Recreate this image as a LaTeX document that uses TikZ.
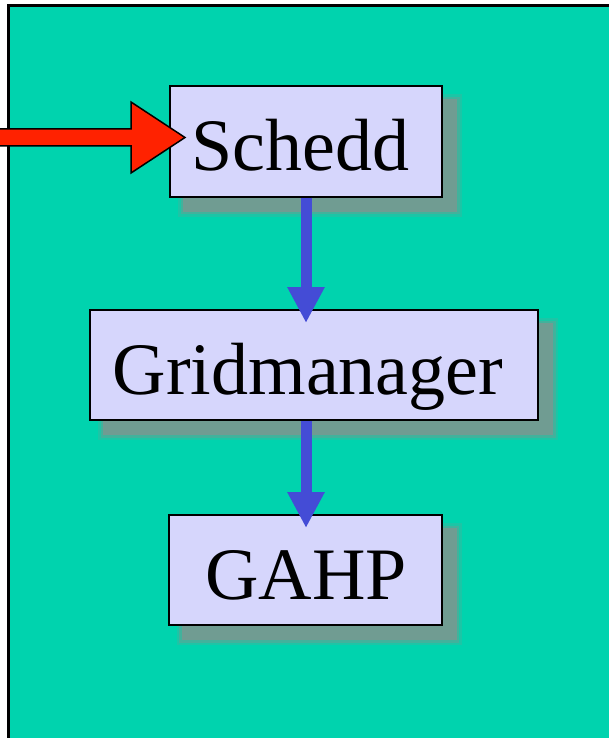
\documentclass[tikz,border=0pt]{standalone}
\usepackage{fontspec}
\setmainfont{Liberation Serif}
\usetikzlibrary{arrows.meta}
\definecolor{panel}{RGB}{0,211,174}
\definecolor{boxfill}{RGB}{214,214,252}
\definecolor{flowblue}{RGB}{68,76,214}
\definecolor{inred}{RGB}{255,34,0}
\definecolor{shadowgray}{RGB}{112,156,146}
\tikzset{
  softshadow/.style={
    preaction={draw=shadowgray, line width=12pt, draw opacity=0.25,
      transform canvas={shift={(14pt,-14pt)}}},
    preaction={draw=shadowgray, line width=7pt, draw opacity=0.45,
      transform canvas={shift={(14pt,-14pt)}}},
    preaction={draw=shadowgray, fill=shadowgray, line width=2pt,
      transform canvas={shift={(14pt,-14pt)}}}},
  proc/.style={draw=black, line width=2pt, fill=boxfill, inner sep=0pt,
    minimum height=110pt, text height=58pt, text depth=0pt,
    font=\fontsize{74}{80}\selectfont, softshadow},
  flow/.style={draw=flowblue, line width=11pt,
    -{Triangle[length=36pt,width=35pt]}, shorten >=-14pt},
  inarrow/.style={draw=black, line width=1.5pt, fill=inred, line join=miter}
}
\begin{document}
\begin{tikzpicture}[x=1pt,y=-1pt]
  \useasboundingbox (0,0) rectangle (608,738);
  % panel
  \draw[fill=panel, line width=3pt] (8,6) rectangle (625,755);
  % processes
  \node[proc, minimum width=272pt] (schedd) at (306,141.5) {\kern-11pt Schedd};
  \node[proc, minimum width=448pt] (grid) at (314,365) {\kern-12pt Gridmanager};
  \node[proc, minimum width=273pt] (gahp) at (305,570) {\kern2pt GAHP};
  % flow between processes
  \draw[flow] (schedd.south -| 306,0) -- (grid.north -| 306,0);
  \draw[flow] (grid.south -| 306,0) -- (gahp.north -| 306,0);
  % incoming block arrow
  \coordinate (tip) at (185,137.5);
  \draw[inarrow] (tip) -- ++(-54,35.5) -- ++(0,-27) -- (-5,146) -- (-5,129)
    -- (131,129) -- (131,102) -- cycle;
\end{tikzpicture}
\end{document}
